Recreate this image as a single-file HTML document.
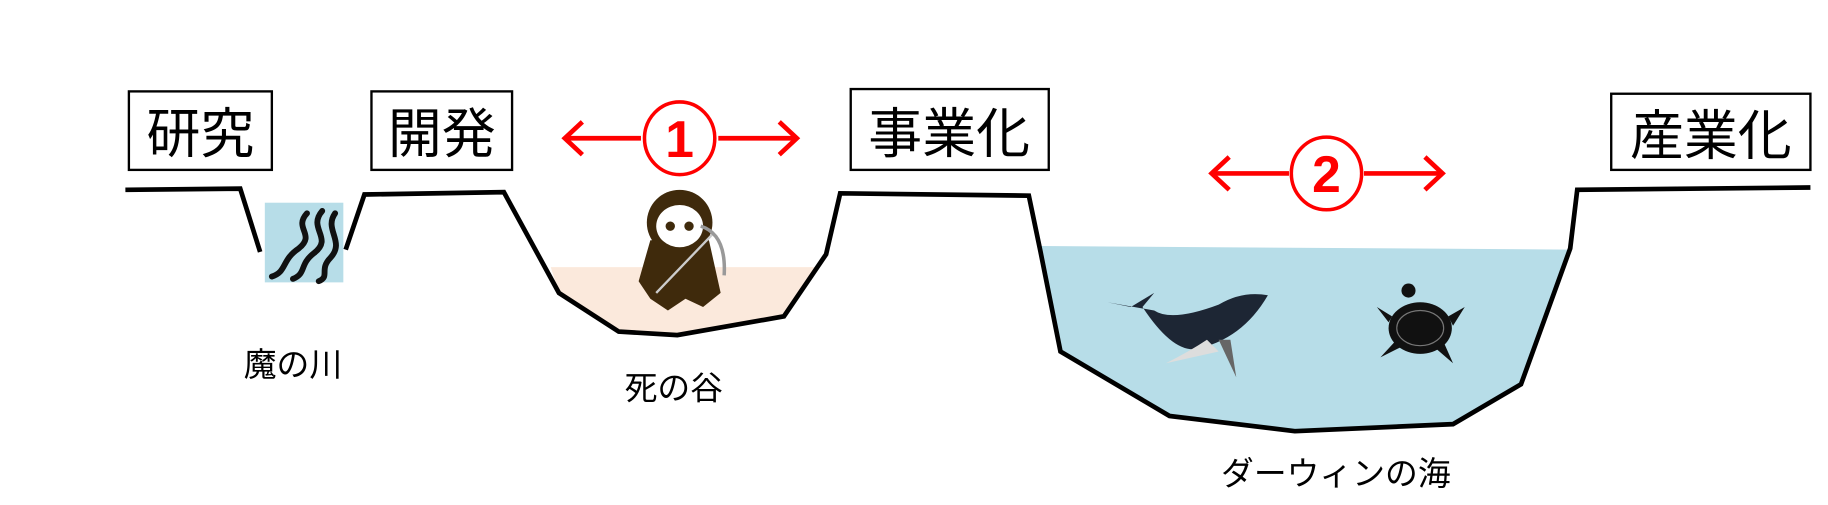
<!DOCTYPE html>
<html><head><meta charset="utf-8"><style>
html,body{margin:0;padding:0;background:#fff;}
svg{display:block}
text{font-family:"Liberation Sans","Noto Sans CJK JP",sans-serif;}
</style></head><body>
<svg width="1828" height="505" viewBox="0 0 1560 431" preserveAspectRatio="none" xmlns="http://www.w3.org/2000/svg">
<rect x="226" y="173" width="67" height="68" fill="#b7dde8"/>
<polygon points="470,228 697,228 705,217 669,270 578,286 528,283 477,250" fill="#fbe9dc"/>
<polygon points="888,210 1340,213 1298,328 1240,362 1105,368 998,355 905,300" fill="#b7dde8"/>
<g fill="none" stroke="#000" stroke-width="4" stroke-linejoin="miter">
<polyline points="107,162 205,161 222,215"/>
<polyline points="295,213 311,166 430,164 477,250 528,283 578,286 669,270 705,217 717,165 878,167 888,215 905,300 998,355 1105,368 1240,362 1298,328 1340,212 1346,162 1545,160"/>
</g>
<g fill="none" stroke="#111" stroke-width="5" stroke-linecap="round">
<path d="M262,182 C250,195 270,200 255,212 C240,222 245,232 232,236"/>
<path d="M275,180 C262,195 285,203 268,216 C255,226 262,233 250,238"/>
<path d="M286,182 C276,196 295,206 282,220 C272,230 282,236 272,240"/>
</g>
<g fill="#fff" stroke="#000" stroke-width="2">
<rect x="110" y="78" width="122" height="67"/>
<rect x="317" y="78" width="120" height="67"/>
<rect x="726" y="76" width="169" height="69"/>
<rect x="1375" y="80" width="170" height="65"/>
</g>
<g font-size="46" text-anchor="middle" fill="#000">
<text x="171" y="130">研究</text>
<text x="377" y="130">開発</text>
<text x="810" y="130">事業化</text>
<text x="1460" y="132">産業化</text>
</g>
<g stroke="#f00" stroke-width="4" fill="none">
<line x1="482" y1="118" x2="547" y2="118"/><polyline points="497,104 482,118 497,132"/>
<line x1="613" y1="118" x2="680" y2="118"/><polyline points="665,104 680,118 665,132"/>
<ellipse cx="580" cy="118" rx="30" ry="31" stroke-width="3"/>
<line x1="1034" y1="148" x2="1100" y2="148"/><polyline points="1049,134 1034,148 1049,162"/>
<line x1="1164" y1="148" x2="1231" y2="148"/><polyline points="1216,134 1231,148 1216,162"/>
<ellipse cx="1132" cy="148" rx="30" ry="31" stroke-width="3"/>
</g>
<text x="580" y="134" font-size="44" fill="#f00" text-anchor="middle" font-weight="bold">1</text>
<text x="1132" y="164" font-size="44" fill="#f00" text-anchor="middle" font-weight="bold">2</text>
<g fill="#3f2a0c">
<ellipse cx="580" cy="190" rx="28" ry="28"/>
<path d="M555,205 L605,205 L615,250 L600,262 L585,255 L570,265 L555,255 L545,240 Z"/>
</g>
<ellipse cx="580" cy="193" rx="20" ry="18" fill="#fff"/>
<circle cx="572" cy="193" r="4" fill="#3f2a0c"/><circle cx="588" cy="193" r="4" fill="#3f2a0c"/>
<line x1="608" y1="200" x2="560" y2="250" stroke="#ccc" stroke-width="2"/>
<path d="M598,193 Q620,200 618,235" fill="none" stroke="#999" stroke-width="3"/>
<path d="M945,258 L965,262 L985,250 L975,262 Q1000,300 1020,298 Q1060,290 1082,252 Q1060,248 1040,260 Q1000,275 985,265 Z" fill="#1d2634"/>
<path d="M995,310 Q1015,300 1030,290 L1040,300 Z" fill="#ddd"/>
<path d="M1040,290 L1055,322 L1050,290 Z" fill="#666"/>
<ellipse cx="1212" cy="280" rx="27" ry="22" fill="#111"/>
<ellipse cx="1212" cy="280" rx="20" ry="15" fill="none" stroke="#777" stroke-width="1"/>
<circle cx="1202" cy="248" r="6" fill="#111"/>
<path d="M1188,270 L1175,262 L1185,275 Z M1190,292 L1178,305 L1196,296 Z M1236,270 L1250,262 L1240,278 Z M1232,292 L1240,310 L1226,298 Z" fill="#111"/>
<g font-size="28" text-anchor="middle" fill="#000">
<text x="250" y="321">魔の川</text>
<text x="575" y="341">死の谷</text>
<text x="1140" y="414">ダーウィンの海</text>
</g>
</svg>
</body></html>
